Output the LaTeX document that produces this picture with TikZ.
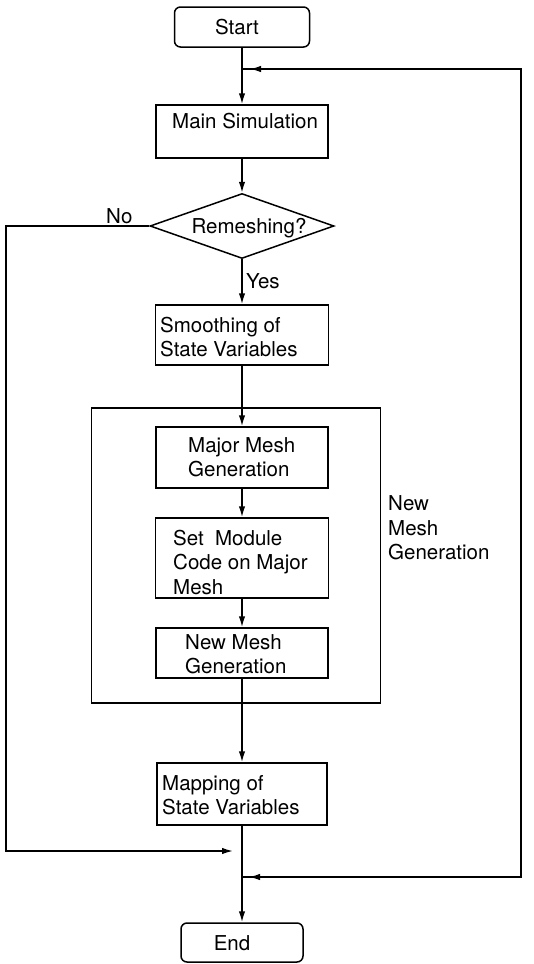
\documentclass[tikz,border=0pt]{standalone}
\usepackage{fontspec}
\setmainfont{TeX Gyre Heros}
\usetikzlibrary{shapes.geometric,arrows.meta}
\begin{document}
\begin{tikzpicture}[x=1pt,y=-1pt,
  line/.style={line width=1.5pt},
  arr/.style={line, -{Latex[length=11pt,width=6.5pt]}},
  box/.style={draw, line width=1.5pt, rectangle, inner sep=0pt},
  term/.style={box, rounded corners=6pt},
  lbl/.style={inner sep=0pt, align=left, font=\fontsize{20.5}{24.5}\selectfont}
]
\useasboundingbox (0,0) rectangle (534,964);
% boxes
\node[term, minimum width=135pt, minimum height=40pt] (start) at (242,27) {};
\node[box, minimum width=172pt, minimum height=53pt] (ms) at (242,131.5) {};
\node[draw, line width=1.5pt, diamond, inner sep=0pt, minimum width=184pt, minimum height=65pt] (dec) at (242,226) {};
\node[box, minimum width=173pt, minimum height=60pt] (sm) at (242,335) {};
\node[box, minimum width=289pt, minimum height=295pt] (big) at (236,555.5) {};
\node[box, minimum width=172pt, minimum height=61pt] (mm) at (242,457.5) {};
\node[box, minimum width=173pt, minimum height=80pt] (smc) at (242,558) {};
\node[box, minimum width=172pt, minimum height=50pt] (nm) at (242,653) {};
\node[box, minimum width=170pt, minimum height=62pt] (map) at (242,794) {};
\node[term, minimum width=122pt, minimum height=39pt] (end) at (242,942.5) {};
% texts
\node[lbl] (tstart) at (237,27) {Start};
\node[lbl, anchor=west] (tms) at (172,121) {Main Simulation};
\node[lbl] (tdec) at (249,228) {Remeshing?};
\node[lbl, anchor=west] (tyes) at (246,281) {Yes};
\node[lbl, anchor=west] (tno) at (106,216) {No};
\node[lbl, anchor=west] (tsm) at (160,337) {Smoothing of\\State Variables};
\node[lbl, anchor=west] (tmm) at (188,457) {Major Mesh\\Generation};
\node[lbl, anchor=west] (tsmc) at (173,562) {Set\ \ Module\\Code on Major\\Mesh};
\node[lbl, anchor=west] (tnm) at (185,654) {New Mesh\\Generation};
\node[lbl, anchor=west] (tmap) at (162,795) {Mapping of\\State Variables};
\node[lbl, anchor=west] (tbig) at (388,528) {New\\Mesh\\Generation};
\node[lbl] (tend) at (232,943) {End};
% junction coordinates
\coordinate (j1) at (242,69);
\coordinate (j3) at (242,851);
\coordinate (j2) at (242,877);
\coordinate (rtop) at (521,69);
\coordinate (rbot) at (521,877);
\coordinate (ltop) at (6,226);
\coordinate (lbot) at (6,851);
% main flow
\draw[arr] (start) -- (ms);
\draw[arr] (ms) -- (dec);
\draw[arr] (dec) -- (sm);
\draw[arr] (sm) -- (mm);
\draw[arr] (mm) -- (smc);
\draw[arr] (smc) -- (nm);
\draw[arr] (nm) -- (map);
\draw[arr] (map) -- (end);
% No branch
\draw[arr, shorten >=9pt] (dec.west) -- (ltop) -- (lbot) -- (j3);
% loop back
\draw[line] (j2) -- (rbot) -- (rtop) -- (j1);
\draw[arr, shorten >=8pt] (rtop) -- (j1);
\draw[arr, shorten >=7pt] (rbot) -- (j2);
\end{tikzpicture}
\end{document}
